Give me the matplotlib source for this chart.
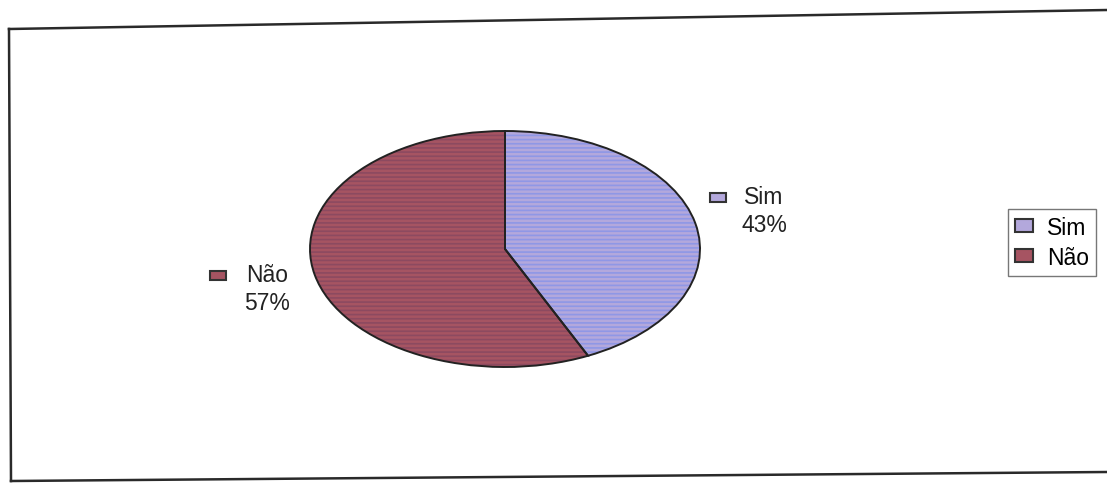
import matplotlib
matplotlib.use("Agg")
import matplotlib.pyplot as plt
from matplotlib.lines import Line2D
from matplotlib.patches import Patch, Rectangle

plt.rcParams['font.family'] = ['Liberation Sans', 'DejaVu Sans']
plt.rcParams['hatch.linewidth'] = 1.2

# Survey answers
labels = ['Sim', 'Não']
shares = [43, 57]
face_colors = ['#b3a8dc', '#a65462']
stripe_colors = ['#8f97e6', '#8c4a60']

W, H = 1107, 485
fig = plt.figure(figsize=(W / 100, H / 100), dpi=100)


def fx(x):
    return x / W


def fy(y):
    return 1 - y / H


# scanned frame around the chart (slightly skewed)
def px_line(x0, y0, x1, y1):
    fig.add_artist(Line2D([fx(x0), fx(x1)], [fy(y0), fy(y1)],
                          color='#2a2a2a', lw=1.8, transform=fig.transFigure))


px_line(9, 30, 1107, 11)
px_line(9, 30, 11, 482)
px_line(11, 482, 1107, 473)

# pie axes: ellipse centred at (505, 250) px, radii 195 x 118 px
cx, cy, rx, ry = 505, 250, 195, 118
ax = fig.add_axes([(cx - 1.25 * rx) / W, (H - cy - 1.25 * ry) / H,
                   2.5 * rx / W, 2.5 * ry / H])

wedges, _ = ax.pie(shares, colors=face_colors, startangle=90, counterclock=False,
                   wedgeprops=dict(linewidth=0, hatch='----'))
for w, sc in zip(wedges, stripe_colors):
    w.set_edgecolor(sc)
ax.pie(shares, startangle=90, counterclock=False,
       wedgeprops=dict(fill=False, edgecolor='#222222', linewidth=1.4))
ax.set_aspect('auto')
ax.set_xlim(-1.25, 1.25)
ax.set_ylim(-1.25, 1.25)

# data labels (centre x, y of the name) with a small colour key
fs = 16.5
label_pos = {'Sim': (764, 198), 'Não': (267, 276)}
key_left = {'Sim': 710, 'Não': 210}
for lab, val, col in zip(labels, shares, face_colors):
    x, y = label_pos[lab]
    fig.text(fx(x), fy(y), lab, fontsize=fs, ha='center', va='center', color='#222222')
    fig.text(fx(x), fy(y + 27), f'{val}%', fontsize=fs, ha='center', va='center',
             color='#222222')
    fig.add_artist(Rectangle((fx(key_left[lab]), fy(y + 5)), 16 / W, 9 / H,
                             facecolor=col, edgecolor='#333333', lw=1.5,
                             transform=fig.transFigure))

handles = [Patch(facecolor=c, edgecolor='#333333', lw=1.5) for c in face_colors]
leg = fig.legend(handles, labels, loc='upper left', bbox_to_anchor=(fx(1008), fy(210)),
                 fontsize=fs, frameon=True, fancybox=False, handlelength=0.8,
                 handleheight=0.5, handletextpad=0.6, borderpad=0.3, labelspacing=0.3,
                 borderaxespad=0)
leg.get_frame().set_edgecolor('#555555')
leg.get_frame().set_linewidth(1.0)

fig.savefig('out.png', dpi=100)
